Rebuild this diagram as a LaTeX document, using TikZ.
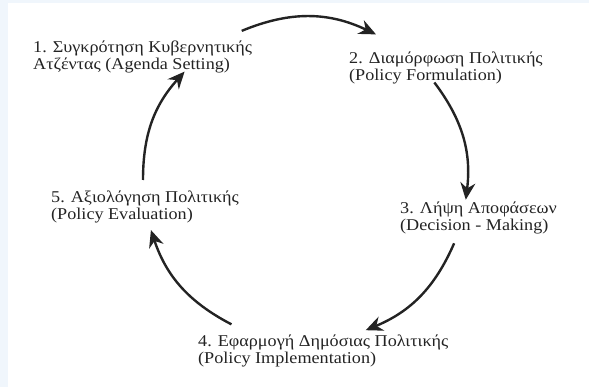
\documentclass[tikz,border=0pt]{standalone}
\usepackage{fontspec}
\setmainfont{Liberation Serif}[FakeStretch=1.1]
\usetikzlibrary{arrows.meta}
\definecolor{edgeblue}{RGB}{240,246,252}
\definecolor{inkgray}{RGB}{35,35,35}

\begin{document}
\begin{tikzpicture}[->,>={Stealth[length=17pt,width=15pt]},x=1pt,y=1pt,
      line width=2.4pt,color=inkgray,
      stage/.style={align=left,anchor=base west,inner sep=0pt,
        font=\fontsize{16.5}{17}\selectfont}]
  \useasboundingbox (0,0) rectangle (589,-387);
  \fill[-,edgeblue] (0,0) rectangle (8,-387);
  \fill[-,edgeblue] (0,0) rectangle (589,-3);
  % stages of the policy cycle (anchored on the last line)
  \node[stage] (s1) at (32,-70)  {1. Συγκρότηση Κυβερνητικής\\Ατζέντας (Agenda Setting)};
  \node[stage] (s2) at (348,-81) {2. Διαμόρφωση Πολιτικής\\(Policy Formulation)};
  \node[stage] (s3) at (399,-231) {3. Λήψη Αποφάσεων\\(Decision - Making)};
  \node[stage] (s4) at (197,-363) {4. Εφαρμογή Δημόσιας Πολιτικής\\(Policy Implementation)};
  \node[stage] (s5) at (50,-220) {5. Αξιολόγηση Πολιτικής\\(Policy Evaluation)};
  % points on the circle
  \coordinate (c) at (305,-180);
  \foreach \n/\a in {s1out/113,s2in/64,s2out/37,s3in/-7,s3out/-23,s4in/-68,
      s4out/243,s5in/198,s5out/180,s1in/138}
    \path (c) ++(\a:162) coordinate (\n);
  \path
    (s1out) edge[bend left=24] (s2in)
    (s2out) edge[bend left=22] (s3in)
    (s3out) edge[bend left=22] (s4in)
    (s4out) edge[bend left=22] (s5in)
    (s5out) edge[bend left=21] (s1in);
\end{tikzpicture}
\end{document}
